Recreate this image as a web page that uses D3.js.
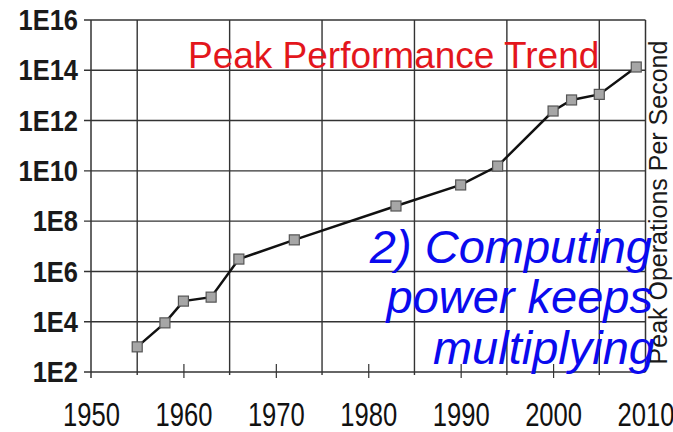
<!DOCTYPE html>
<html>
<head>
<meta charset="utf-8">
<script src="https://cdn.jsdelivr.net/npm/d3@7"></script>
<style>
  body { margin: 0; background: #fff; }
  svg { display: block; font-family: "Liberation Sans", Arial, sans-serif; }
</style>
</head>
<body>
<div id="chart"></div>
<script>
const years = [1955, 1958, 1960, 1963, 1966, 1972, 1983, 1990, 1994, 2000, 2002, 2005, 2009];
const peakOps = [1e3, 9e3, 6.6e4, 9.5e4, 3.1e6, 1.8e7, 4e8, 2.75e9, 1.55e10, 2.4e12, 6.6e12, 1.1e13, 1.35e14];
const yTicks = [1e2, 1e4, 1e6, 1e8, 1e10, 1e12, 1e14, 1e16];
const yTickLabels = ['1E2', '1E4', '1E6', '1E8', '1E10', '1E12', '1E14', '1E16'];
const xLabelYears = [1950, 1960, 1970, 1980, 1990, 2000, 2010];
const xGridYears = [1955, 1965, 1975, 1985, 1995, 2005];
const title = 'Peak Performance Trend';
const yTitle = 'Peak Operations Per Second';
const noteLines = ['2) Computing', 'power keeps', 'multiplying'];

const width = 673, height = 432;
const plot = { left: 91, right: 645.5, top: 20, bottom: 372 };

const svg = d3.select('#chart').append('svg')
  .attr('width', width).attr('height', height);

const x = d3.scaleLinear().domain([1950, 2010]).range([plot.left, plot.right]);
const y = d3.scaleLog().domain([1e2, 1e16]).range([plot.bottom, plot.top]);

const gridColor = '#333';

// horizontal grid
svg.append('g')
  .selectAll('line')
  .data(yTicks)
  .join('line')
  .attr('x1', plot.left - 7).attr('x2', plot.right)
  .attr('y1', d => y(d)).attr('y2', d => y(d))
  .attr('stroke', gridColor).attr('stroke-width', 1.4);

// vertical grid (offset half-decades)
svg.append('g')
  .selectAll('line')
  .data(xGridYears)
  .join('line')
  .attr('x1', d => x(d)).attr('x2', d => x(d))
  .attr('y1', plot.top).attr('y2', plot.bottom + 3)
  .attr('stroke', gridColor).attr('stroke-width', 1.4);

// frame
svg.append('line').attr('x1', plot.left).attr('x2', plot.left).attr('y1', plot.top).attr('y2', plot.bottom + 6)
  .attr('stroke', gridColor).attr('stroke-width', 1.5);
svg.append('line').attr('x1', plot.right).attr('x2', plot.right).attr('y1', plot.top).attr('y2', plot.bottom)
  .attr('stroke', gridColor).attr('stroke-width', 1.5);

// y axis labels
const yAxis = svg.append('g')
  .attr('transform', `translate(${plot.left},0)`)
  .call(d3.axisLeft(y).tickValues(yTicks).tickSize(0)
    .tickFormat((d, i) => yTickLabels[i]));
yAxis.select('.domain').remove();
yAxis.selectAll('text')
  .attr('x', -13)
  .attr('dy', '0.33em')
  .attr('transform', 'scale(1,1.14)')
  .attr('font-size', 25.5)
  .attr('font-weight', 'bold')
  .attr('fill', '#1a1a1a')
  .attr('font-family', '"Liberation Sans", Arial, sans-serif');

// x axis
const xAxis = svg.append('g')
  .attr('transform', `translate(0,${plot.bottom})`)
  .call(d3.axisBottom(x).tickValues(xLabelYears).tickSize(6).tickFormat(d3.format('d')));
xAxis.select('.domain').remove();
xAxis.selectAll('line')
  .attr('y1', -8)
  .attr('stroke', gridColor).attr('stroke-width', 1.2)
  .filter(d => d === 1950 || d === 2010).remove();
xAxis.selectAll('text')
  .attr('y', 41.5)
  .attr('dy', 0)
  .attr('transform', 'scale(1,1.3)')
  .attr('font-size', 25.6)
  .attr('fill', '#111')
  .attr('font-family', '"Liberation Sans", Arial, sans-serif');

// data line
const line = d3.line()
  .x((d, i) => x(years[i]))
  .y(d => y(d));

svg.append('path')
  .datum(peakOps)
  .attr('d', line)
  .attr('fill', 'none')
  .attr('stroke', '#111')
  .attr('stroke-width', 2.5);

svg.append('g')
  .selectAll('rect')
  .data(peakOps)
  .join('rect')
  .attr('x', (d, i) => x(years[i]) - 5)
  .attr('y', d => y(d) - 5)
  .attr('width', 10).attr('height', 10)
  .attr('fill', '#a6a6a6')
  .attr('stroke', '#555')
  .attr('stroke-width', 1.2);

// title
svg.append('text')
  .attr('x', 188).attr('y', 67.5)
  .attr('font-size', 37)
  .attr('fill', '#e3161c')
  .text(title);

// right axis title
svg.append('text')
  .attr('transform', `translate(667,202.5) rotate(-90)`)
  .attr('text-anchor', 'middle')
  .attr('font-size', 25)
  .attr('fill', '#1a1a1a')
  .text(yTitle);

// annotation
const noteY = [263, 313, 364];
const noteX = [652, 653, 655];
svg.append('g')
  .selectAll('text')
  .data(noteLines)
  .join('text')
  .attr('x', (d, i) => noteX[i])
  .attr('y', (d, i) => noteY[i])
  .attr('text-anchor', 'end')
  .attr('font-size', 47)
  .attr('font-style', 'italic')
  .attr('fill', '#0a0aee')
  .text(d => d);
</script>
</body>
</html>
